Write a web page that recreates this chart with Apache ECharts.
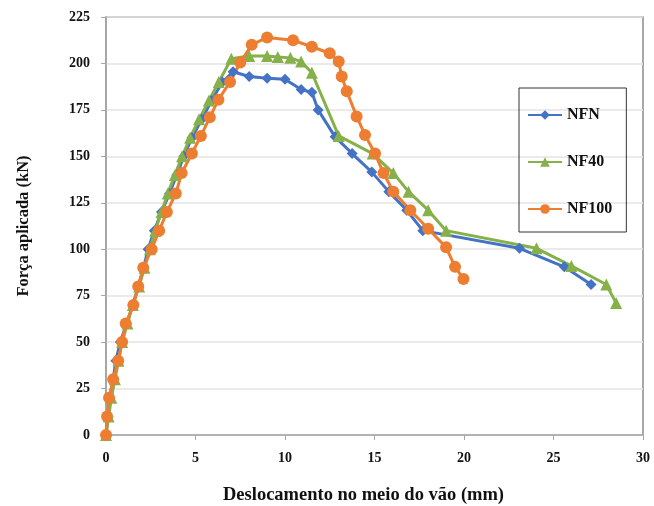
<!DOCTYPE html>
<html>
<head>
<meta charset="utf-8">
<script src="https://cdn.jsdelivr.net/npm/echarts@6/dist/echarts.min.js"></script>
<style>
  html, body { margin: 0; padding: 0; background: #fff; }
  #chart { width: 654px; height: 506px; }
</style>
</head>
<body>
<div id="chart"></div>
<script>
// deslocamento (mm) e força (kN)
const nfnX = [0, 0.1, 0.2, 0.4, 0.55, 0.8, 1.15, 1.5, 1.8, 2.1, 2.35, 2.7, 3.1, 3.55, 3.95, 4.35, 4.8, 5.35, 5.9, 6.5, 7.1, 8.0, 9.0, 10.0, 10.9, 11.5, 11.85, 12.8, 13.75, 14.85, 15.8, 16.8, 17.7, 23.1, 25.6, 27.1];
const nfnY = [0, 10, 20, 30, 40, 50, 60, 70, 80, 90, 100, 110, 120, 130, 140, 150, 160, 170, 180, 190, 195.5, 193, 192, 191.5, 186, 184.5, 175, 160.5, 151.5, 141.5, 131, 121, 110, 100.5, 90.5, 81];

const nf40X = [0, 0.15, 0.3, 0.5, 0.7, 0.9, 1.2, 1.5, 1.85, 2.15, 2.45, 2.75, 3.1, 3.45, 3.85, 4.25, 4.7, 5.2, 5.75, 6.3, 7.0, 8.0, 9.0, 9.6, 10.3, 10.9, 11.5, 13.0, 14.9, 16.05, 16.9, 18.0, 19.0, 24.05, 26.0, 27.95, 28.5];
const nf40Y = [0, 10, 20, 30, 40, 50, 60, 70, 80, 90, 100, 110, 120, 130, 140, 150, 160, 170, 180, 190, 202.5, 204, 204, 203.5, 203, 201, 195, 161, 151.5, 141, 131, 121, 110, 100.5, 91, 81, 71];

const nf100X = [0, 0.06, 0.17, 0.4, 0.68, 0.9, 1.1, 1.53, 1.8, 2.08, 2.55, 2.97, 3.4, 3.9, 4.23, 4.8, 5.3, 5.8, 6.28, 6.93, 7.5, 8.14, 9.0, 10.45, 11.5, 12.5, 13.0, 13.17, 13.45, 14.0, 14.47, 15.03, 15.5, 16.05, 17.0, 18.0, 19.0, 19.5, 19.97];
const nf100Y = [0, 10, 20, 30, 40, 50, 60, 70, 80, 90, 100, 110, 120, 130, 141, 151.5, 161, 171, 180.5, 190, 200.5, 210, 214, 212.5, 209, 205.5, 201, 193, 185, 171.5, 161.5, 151.5, 141, 131, 121, 111, 101, 90.5, 84];

const xTicks = [0, 30, 5];   // min, max, passo
const yTicks = [0, 225, 25];

const pair = (xs, ys) => xs.map((x, i) => [x, ys[i]]);
const serif = '"Liberation Serif", "DejaVu Serif", serif';

const chart = echarts.init(document.getElementById('chart'));

function lineSeries(name, xs, ys, color, symbol, size) {
  return {
    name,
    type: 'line',
    data: pair(xs, ys),
    symbol,
    symbolSize: size,
    showAllSymbol: true,
    lineStyle: { width: 3, color },
    itemStyle: { color },
    emphasis: { disabled: true },
  };
}

chart.setOption({
  animation: false,
  backgroundColor: '#fff',
  grid: {
    left: 106, right: 11, top: 17, bottom: 71,
    outerBoundsMode: 'none',
    containLabel: false,
    show: true,
    borderColor: '#8c8c8c',
    borderWidth: 1.5,
  },
  legend: {
    orient: 'vertical',
    left: 519,
    top: 88,
    padding: [19, 14, 15, 8],
    itemGap: 31,
    itemWidth: 34,
    itemHeight: 12,
    borderColor: '#333',
    borderWidth: 1,
    textStyle: { fontFamily: serif, fontWeight: 'bold', fontSize: 16, color: '#111' },
    data: ['NFN', 'NF40', 'NF100'],
  },
  xAxis: {
    type: 'value',
    min: xTicks[0],
    max: xTicks[1],
    interval: xTicks[2],
    name: 'Deslocamento no meio do vão (mm)',
    nameLocation: 'middle',
    nameGap: 51,
    nameTextStyle: { fontFamily: serif, fontWeight: 'bold', fontSize: 18.5, color: '#111', padding: [0, 22, 0, 0] },
    axisLine: { lineStyle: { color: '#a6a6a6', width: 1.5 } },
    axisTick: { show: true, length: 5, lineStyle: { color: '#a6a6a6' } },
    axisLabel: { fontFamily: serif, fontWeight: 'bold', fontSize: 14, color: '#111', margin: 16 },
    splitLine: { show: false },
  },
  yAxis: {
    type: 'value',
    min: yTicks[0],
    max: yTicks[1],
    interval: yTicks[2],
    name: 'Força aplicada (kN)',
    nameLocation: 'middle',
    nameGap: 74,
    nameRotate: 90,
    nameTextStyle: { fontFamily: serif, fontWeight: 'bold', fontSize: 16.5, color: '#111' },
    axisLine: { show: true, lineStyle: { color: '#a6a6a6', width: 1.5 } },
    axisTick: { show: true, length: 5, lineStyle: { color: '#a6a6a6' } },
    axisLabel: { fontFamily: serif, fontWeight: 'bold', fontSize: 14, color: '#111', margin: 16 },
    splitLine: { lineStyle: { color: '#e3e3e3', width: 1.5 } },
  },
  series: [
    lineSeries('NFN', nfnX, nfnY, '#4472C4', 'diamond', 11),
    lineSeries('NF40', nf40X, nf40Y, '#86B04A', 'triangle', 12),
    lineSeries('NF100', nf100X, nf100Y, '#ED7D31', 'circle', 12),
  ],
});
</script>
</body>
</html>
